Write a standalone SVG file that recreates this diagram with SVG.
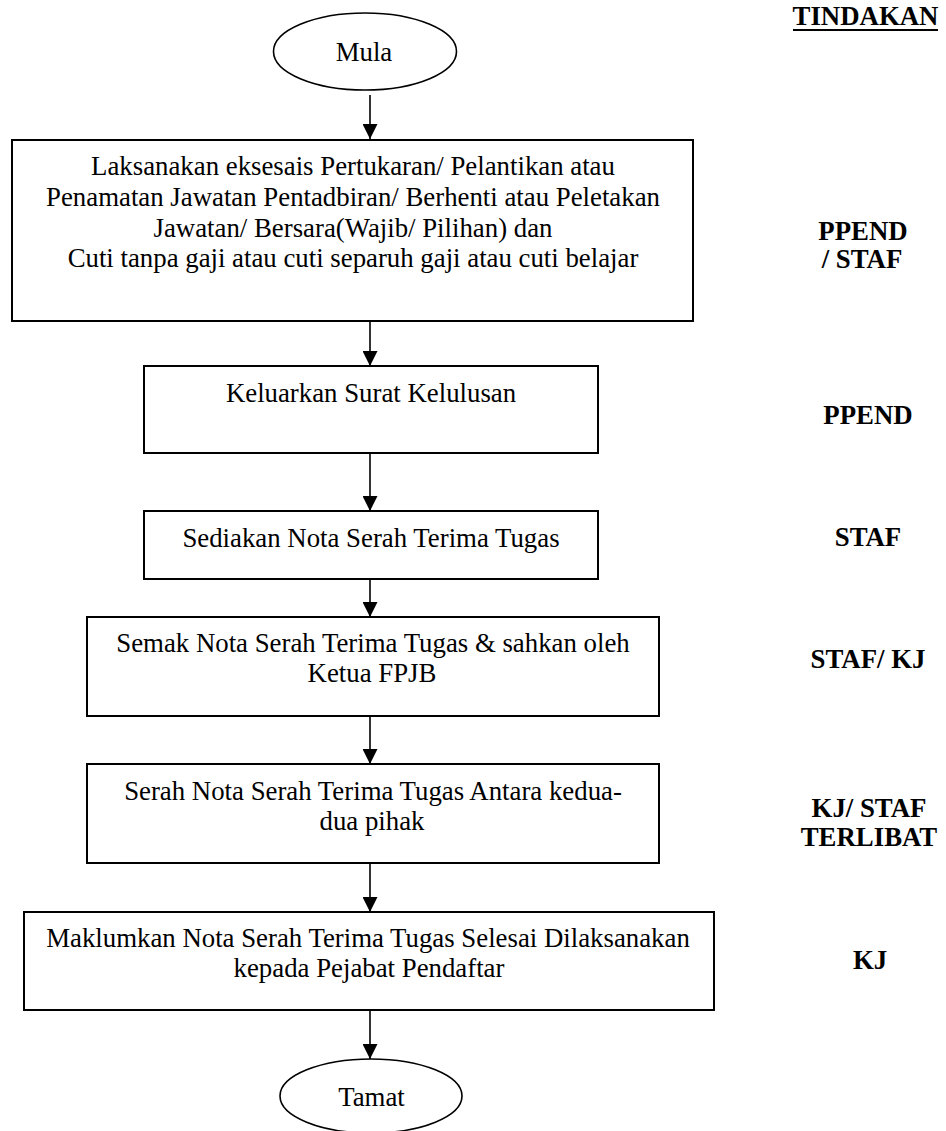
<svg xmlns="http://www.w3.org/2000/svg" width="946" height="1131" viewBox="0 0 946 1131">
<defs>
<style>
.box{fill:#fff;stroke:#000;stroke-width:2}
.term{fill:#fff;stroke:#000;stroke-width:1.6}
.c{stroke:#000;stroke-width:1.6;fill:none;marker-end:url(#ah)}
</style>
<marker id="ah" viewBox="0 0 15 15" refX="15" refY="7.5" markerWidth="15" markerHeight="15" markerUnits="userSpaceOnUse" orient="auto">
<path d="M0,0 L15,7.5 L0,15 Z" fill="#000"/>
</marker>
</defs>
<rect width="946" height="1131" fill="#fff"/>

<g id="connectors">
<line class="c" x1="370" y1="95" x2="370" y2="139"/>
<line class="c" x1="370" y1="322" x2="370" y2="366"/>
<line class="c" x1="370" y1="454" x2="370" y2="511"/>
<line class="c" x1="370" y1="574" x2="370" y2="617"/>
<line class="c" x1="370" y1="717" x2="370" y2="764"/>
<line class="c" x1="370" y1="864" x2="370" y2="912"/>
<line class="c" x1="370" y1="1011" x2="370" y2="1059"/>
</g>

<g font-family="'Liberation Serif', 'Times New Roman', serif" font-size="26.8" fill="#000" text-anchor="middle">
<g id="mula">
<ellipse class="term" cx="365" cy="51.5" rx="91.5" ry="38.5"/>
<text x="364" y="61">Mula</text>
</g>

<g id="step1">
<rect class="box" x="12" y="140" width="681" height="181"/>
<text x="353" y="175">Laksanakan eksesais Pertukaran/ Pelantikan atau</text>
<text x="353" y="206">Penamatan Jawatan Pentadbiran/ Berhenti atau Peletakan</text>
<text x="353" y="237">Jawatan/ Bersara(Wajib/ Pilihan) dan</text>
<text x="353" y="267">Cuti tanpa gaji atau cuti separuh gaji atau cuti belajar</text>
</g>

<g id="step2">
<rect class="box" x="144" y="366" width="454" height="87"/>
<text x="371" y="402">Keluarkan Surat Kelulusan</text>
</g>

<g id="step3">
<rect class="box" x="144" y="511" width="454" height="68"/>
<text x="371" y="547">Sediakan Nota Serah Terima Tugas</text>
</g>

<g id="step4">
<rect class="box" x="87" y="617" width="572" height="99"/>
<text x="373" y="652">Semak Nota Serah Terima Tugas &amp; sahkan oleh</text>
<text x="372" y="682">Ketua FPJB</text>
</g>

<g id="step5">
<rect class="box" x="87" y="764" width="572" height="99"/>
<text x="373" y="800">Serah Nota Serah Terima Tugas Antara kedua-</text>
<text x="372" y="830">dua pihak</text>
</g>

<g id="step6">
<rect class="box" x="24" y="912" width="690" height="98"/>
<text x="368" y="947">Maklumkan Nota Serah Terima Tugas Selesai Dilaksanakan</text>
<text x="369" y="977">kepada Pejabat Pendaftar</text>
</g>

<g id="tamat">
<ellipse class="term" cx="371" cy="1096" rx="91" ry="37"/>
<text x="371.5" y="1106">Tamat</text>
</g>

<g id="labels" font-weight="bold">
<text x="865.5" y="25">TINDAKAN</text>
<line x1="793" y1="30" x2="938" y2="30" stroke="#000" stroke-width="2"/>
<text x="863" y="240">PPEND</text>
<text x="862" y="268">/ STAF</text>
<text x="868" y="424">PPEND</text>
<text x="868" y="546">STAF</text>
<text x="868" y="668">STAF/ KJ</text>
<text x="869" y="817">KJ/ STAF</text>
<text x="869" y="846">TERLIBAT</text>
<text x="870" y="969">KJ</text>
</g>
</g>
</svg>
